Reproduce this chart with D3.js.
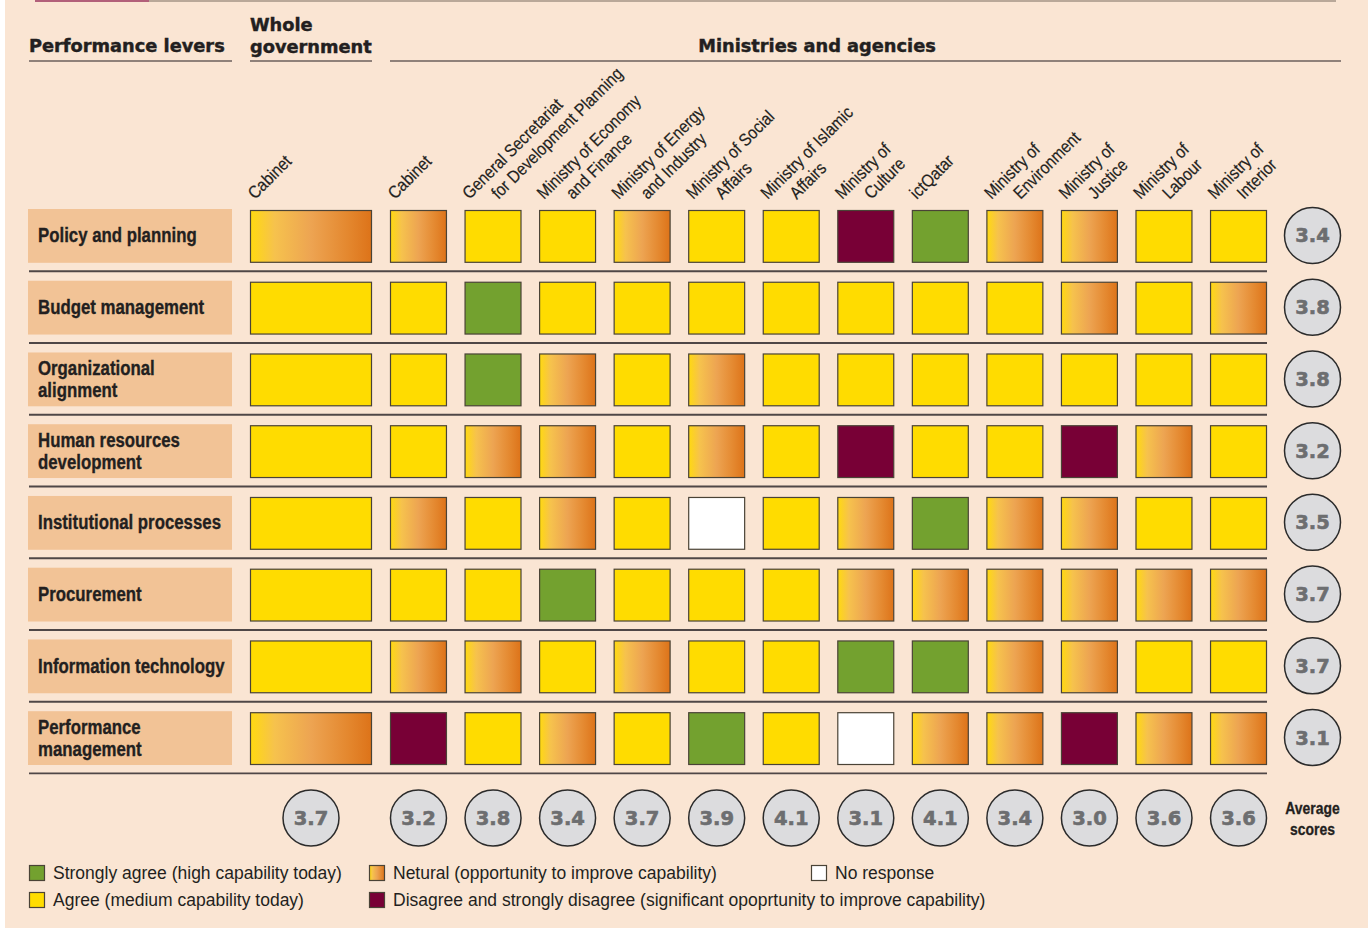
<!DOCTYPE html>
<html>
<head>
<meta charset="utf-8">
<script src="https://cdn.jsdelivr.net/npm/d3@7"></script>
<style>
  html, body { margin: 0; padding: 0; background: #ffffff; }
  svg { display: block; }
</style>
</head>
<body>
<svg id="chart" width="1368" height="929"></svg>
<script>
// ---- Data -----------------------------------------------------------------
// Performance levers (rows); each entry is the label split into its lines
const levers = [
  ["Policy and planning"],
  ["Budget management"],
  ["Organizational", "alignment"],
  ["Human resources", "development"],
  ["Institutional processes"],
  ["Procurement"],
  ["Information technology"],
  ["Performance", "management"]
];

// Whole-government column
const wholeGovLabel = ["Cabinet"];
const wholeGovRatings = ["N", "Y", "Y", "Y", "Y", "Y", "Y", "N"];
const wholeGovAverage = 3.7;

// Ministries and agencies (columns)
const ministries = [
  ["Cabinet"],
  ["General Secretariat", "for Development Planning"],
  ["Ministry of Economy", "and Finance"],
  ["Ministry of Energy", "and Industry"],
  ["Ministry of Social", "Affairs"],
  ["Ministry of Islamic", "Affairs"],
  ["Ministry of", "Culture"],
  ["ictQatar"],
  ["Ministry of", "Environment"],
  ["Ministry of", "Justice"],
  ["Ministry of", "Labour"],
  ["Ministry of", "Interior"]
];

// Ratings per lever (row) and ministry (column)
// G = strongly agree, Y = agree, N = neutral, D = disagree, W = no response
const ministryRatings = [
  ["N", "Y", "Y", "N", "Y", "Y", "D", "G", "N", "N", "Y", "Y"],
  ["Y", "G", "Y", "Y", "Y", "Y", "Y", "Y", "Y", "N", "Y", "N"],
  ["Y", "G", "N", "Y", "N", "Y", "Y", "Y", "Y", "Y", "Y", "Y"],
  ["Y", "N", "N", "Y", "N", "Y", "D", "Y", "Y", "D", "N", "Y"],
  ["N", "Y", "N", "Y", "W", "Y", "N", "G", "N", "N", "Y", "Y"],
  ["Y", "Y", "G", "Y", "Y", "Y", "N", "N", "N", "N", "N", "N"],
  ["N", "N", "Y", "N", "Y", "Y", "G", "G", "N", "N", "Y", "Y"],
  ["D", "Y", "N", "Y", "G", "Y", "W", "N", "N", "D", "N", "N"]
];

const leverAverages = [3.4, 3.8, 3.8, 3.2, 3.5, 3.7, 3.7, 3.1];
const ministryAverages = [3.2, 3.8, 3.4, 3.7, 3.9, 4.1, 3.1, 4.1, 3.4, 3.0, 3.6, 3.6];

const ratingCodes = ["G", "Y", "N", "D", "W"];
const legendLabels = [
  "Strongly agree (high capability today)",
  "Agree (medium capability today)",
  "Netural (opportunity to improve capability)",
  "Disagree and strongly disagree (significant opoprtunity to improve capability)",
  "No response"
];

// ---- Setup ----------------------------------------------------------------
const svg = d3.select("#chart");
const fmt = d3.format(".1f");

const HEAD_FONT = "'DejaVu Sans', Verdana, sans-serif";
const BODY_FONT = "'Liberation Sans', Arial, sans-serif";
const INK = "#231f20";
const CELL_STROKE = "#4a4336";
const NARROW = 0.82;   // horizontal squeeze for condensed bold labels

const defs = svg.append("defs");
const grad = defs.append("linearGradient")
  .attr("id", "neutralFill")
  .attr("x1", 0).attr("x2", 1).attr("y1", 0).attr("y2", 0);
[[0, "#ffd910"], [0.2, "#f6c24d"], [0.5, "#eda452"], [0.8, "#e4882f"], [1, "#dd7319"]]
  .forEach(([o, c]) => grad.append("stop").attr("offset", o).attr("stop-color", c));

const fillScale = d3.scaleOrdinal()
  .domain(ratingCodes)
  .range(["#73a12f", "#ffdc00", "url(#neutralFill)", "#780036", "#ffffff"]);

// Panel background and top rule
svg.append("rect").attr("x", 5).attr("y", 0).attr("width", 1363).attr("height", 928)
  .attr("fill", "#fae5d3");
svg.append("line").attr("x1", 35).attr("x2", 1336).attr("y1", 1).attr("y2", 1)
  .attr("stroke", "#b9a899").attr("stroke-width", 2);
svg.append("line").attr("x1", 35).attr("x2", 149).attr("y1", 1).attr("y2", 1)
  .attr("stroke", "#b2607a").attr("stroke-width", 2);

// ---- Scales ---------------------------------------------------------------
const rowKeys = levers.map(d => d.join(" "));
const colKeys = ministries.map(d => d.join(" "));

const y = d3.scaleBand().domain(rowKeys).range([210, 765]).paddingInner(0.264).paddingOuter(0);
const x = d3.scaleBand().domain(colKeys).range([390, 1267]).paddingInner(0.236).paddingOuter(0);
const xWG = d3.scaleBand().domain(["Whole government"]).range([250, 372]).padding(0);

const avgX = 1312.5;
const colAvgY = 818;
const R = 28;

// ---- Section headers --------------------------------------------------------
const headG = svg.append("g").attr("font-family", HEAD_FONT).attr("font-weight", "bold")
  .attr("font-size", 17.8).attr("fill", INK)
  .attr("stroke", INK).attr("stroke-width", 0.45);
headG.append("text").attr("x", 29).attr("y", 52).text("Performance levers");
headG.append("text").attr("x", 250).attr("y", 31).text("Whole");
headG.append("text").attr("x", 250).attr("y", 53).text("government");
headG.append("text").attr("x", 817).attr("y", 52).attr("text-anchor", "middle")
  .text("Ministries and agencies");

[[29, 232], [250, 372], [390, 1341]].forEach(([a, b]) => {
  svg.append("line").attr("x1", a).attr("x2", b).attr("y1", 61).attr("y2", 61)
    .attr("stroke", "#8f817a").attr("stroke-width", 2);
});

// ---- Rotated column labels -------------------------------------------------
function columnLabel(lines, x0) {
  lines.forEach((line, i) => {
    svg.append("g")
      .attr("transform", `translate(${x0 + 5 + i * 29},200) rotate(-45) scale(0.88,1)`)
      .append("text")
      .attr("font-family", BODY_FONT).attr("font-size", 17.5).attr("fill", INK)
      .attr("stroke", INK).attr("stroke-width", 0.2)
      .text(line);
  });
}
columnLabel(wholeGovLabel, xWG("Whole government"));
ministries.forEach((m, i) => columnLabel(m, x(colKeys[i])));

// ---- Row separators ---------------------------------------------------------
const gap = y.step() - y.bandwidth();
rowKeys.forEach(k => {
  const yy = y(k) + y.bandwidth() + gap / 2 - 1;
  svg.append("line").attr("x1", 29).attr("x2", 1267).attr("y1", yy).attr("y2", yy)
    .attr("stroke", "#4f4747").attr("stroke-width", 1.8);
});

// ---- Row label boxes -----------------------------------------------------------
const rowG = svg.append("g").selectAll("g").data(levers).join("g")
  .attr("transform", (d, i) => `translate(0,${y(rowKeys[i])})`);
rowG.append("rect").attr("x", 28).attr("y", -1).attr("width", 204)
  .attr("height", y.bandwidth() + 1).attr("fill", "#f2c396");
rowG.each(function (lines) {
  const g = d3.select(this);
  const cy = y.bandwidth() / 2;
  lines.forEach((line, j) => {
    const by = cy + 6 + (j - (lines.length - 1) / 2) * 22;
    g.append("g").attr("transform", `translate(38,${by}) scale(${NARROW},1)`)
      .append("text")
      .attr("font-family", BODY_FONT).attr("font-weight", "bold").attr("font-size", 20.5)
      .attr("fill", INK).attr("stroke", INK).attr("stroke-width", 0.35).text(line);
  });
});

// ---- Cells ------------------------------------------------------------------
const cellG = svg.append("g");
cellG.selectAll("rect.wg").data(wholeGovRatings).join("rect")
  .attr("class", "wg")
  .attr("x", xWG("Whole government") + 0.5)
  .attr("y", (d, i) => y(rowKeys[i]) + 0.5)
  .attr("width", xWG.bandwidth() - 1)
  .attr("height", y.bandwidth() - 1)
  .attr("fill", d => fillScale(d))
  .attr("stroke", CELL_STROKE).attr("stroke-width", 1.2);

const cellData = [];
ministryRatings.forEach((row, r) => row.forEach((v, c) => cellData.push({ r, c, v })));
cellG.selectAll("rect.cell").data(cellData).join("rect")
  .attr("class", "cell")
  .attr("x", d => x(colKeys[d.c]) + 0.5)
  .attr("y", d => y(rowKeys[d.r]) + 0.5)
  .attr("width", x.bandwidth() - 1)
  .attr("height", y.bandwidth() - 1)
  .attr("fill", d => fillScale(d.v))
  .attr("stroke", CELL_STROKE).attr("stroke-width", 1.2);

// ---- Score badges --------------------------------------------------------------
function badge(cx, cy, value) {
  const g = svg.append("g").attr("transform", `translate(${cx},${cy})`);
  g.append("circle").attr("r", R).attr("fill", "#dcdcde")
    .attr("stroke", "#2b2b2b").attr("stroke-width", 1.5);
  g.append("text").attr("text-anchor", "middle").attr("y", 7)
    .attr("font-family", HEAD_FONT).attr("font-weight", "bold").attr("font-size", 19.5)
    .attr("fill", "#6d6e70").attr("stroke", "#6d6e70").attr("stroke-width", 0.6)
    .text(fmt(value));
}
leverAverages.forEach((v, i) => badge(avgX, y(rowKeys[i]) + y.bandwidth() / 2 - 1, v));
badge(xWG("Whole government") + xWG.bandwidth() / 2, colAvgY, wholeGovAverage);
ministryAverages.forEach((v, i) => badge(x(colKeys[i]) + x.bandwidth() / 2, colAvgY, v));

["Average", "scores"].forEach((t, i) => {
  svg.append("g").attr("transform", `translate(${avgX},${814 + i * 21}) scale(${NARROW},1)`)
    .append("text").attr("text-anchor", "middle")
    .attr("font-family", BODY_FONT).attr("font-weight", "bold").attr("font-size", 17)
    .attr("fill", INK).attr("stroke", INK).attr("stroke-width", 0.3).text(t);
});

// ---- Legend ---------------------------------------------------------------------
const legendPos = [[29, 0], [29, 1], [369, 0], [369, 1], [811, 0]];
const legG = svg.append("g");
ratingCodes.forEach((code, i) => {
  const [lx, row] = legendPos[i];
  const ly = 865 + row * 27;
  legG.append("rect").attr("x", lx + 0.5).attr("y", ly + 0.5).attr("width", 15).attr("height", 15)
    .attr("fill", fillScale(code)).attr("stroke", CELL_STROKE).attr("stroke-width", 1.2);
  legG.append("text").attr("x", lx + 24).attr("y", ly + 14)
    .attr("font-family", BODY_FONT).attr("font-size", 17.5).attr("fill", INK)
    .text(legendLabels[i]);
});
</script>
</body>
</html>
